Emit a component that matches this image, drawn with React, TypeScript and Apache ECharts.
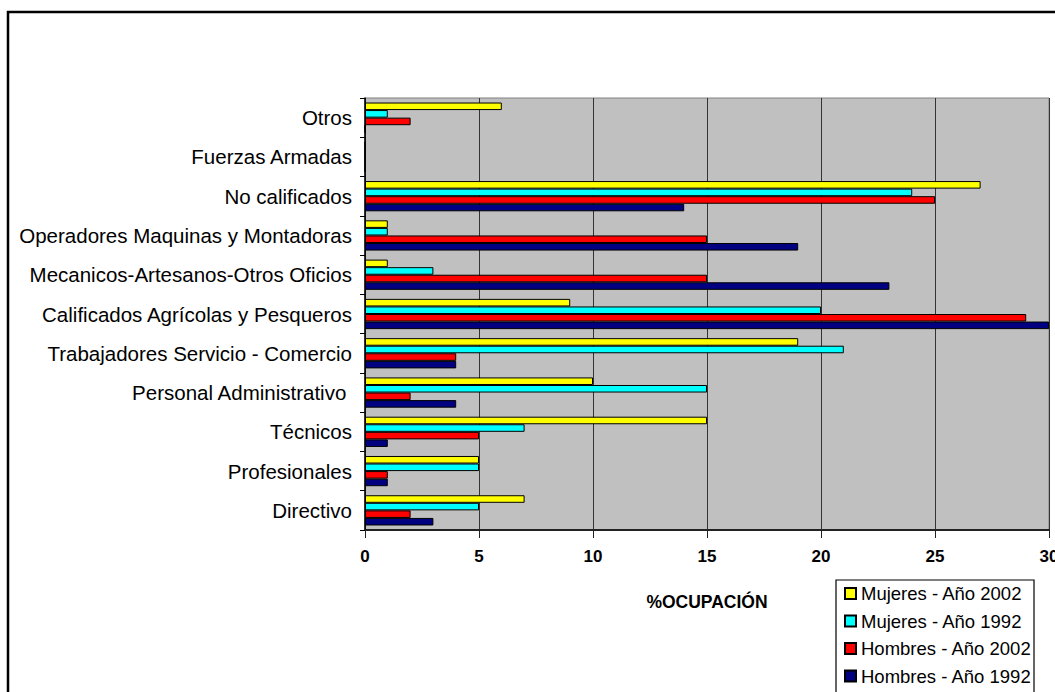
import React, { useEffect, useRef } from "react";
import * as echarts from "echarts";

const categories = [
  "Directivo",
  "Profesionales",
  "Técnicos",
  "Personal Administrativo ",
  "Trabajadores Servicio - Comercio",
  "Calificados Agrícolas y Pesqueros",
  "Mecanicos-Artesanos-Otros Oficios",
  "Operadores Maquinas y Montadoras",
  "No calificados",
  "Fuerzas Armadas",
  "Otros",
];

const seriesNames = [
  "Mujeres - Año 2002",
  "Mujeres - Año 1992",
  "Hombres - Año 2002",
  "Hombres - Año 1992",
];

const mujeres2002 = [7, 5, 15, 10, 19, 9, 1, 1, 27, 0, 6];
const mujeres1992 = [5, 5, 7, 15, 21, 20, 3, 1, 24, 0, 1];
const hombres2002 = [2, 1, 5, 2, 4, 29, 15, 15, 25, 0, 2];
const hombres1992 = [3, 1, 1, 4, 4, 30, 23, 19, 14, 0, 0];

const colors = ["#FFFF00", "#00FFFF", "#FF0000", "#000080"];
const xTicks = [0, 5, 10, 15, 20, 25, 30];

export default function App() {
  const ref = useRef<HTMLDivElement>(null);

  useEffect(() => {
    if (!ref.current) return;
    const chart = echarts.init(ref.current, null, { renderer: "svg" });
    const data = [mujeres2002, mujeres1992, hombres2002, hombres1992];
    chart.setOption({
      animation: false,
      backgroundColor: "#ffffff",
      grid: {
        left: 365,
        top: 98,
        width: 684,
        height: 432,
        show: true,
        backgroundColor: "#C0C0C0",
        borderColor: "#808080",
        borderWidth: 1,
        containLabel: false,
        outerBoundsMode: "none",
      },
      xAxis: {
        type: "value",
        min: xTicks[0],
        max: xTicks[xTicks.length - 1],
        interval: 5,
        name: "%OCUPACIÓN",
        nameLocation: "middle",
        nameGap: 63,
        nameTextStyle: {
          fontFamily: "Liberation Sans, Arial, sans-serif",
          fontWeight: "bold",
          fontSize: 17.5,
          color: "#000",
        },
        axisLine: { show: true, lineStyle: { color: "#222", width: 2 } },
        axisTick: { show: true, length: 8, lineStyle: { color: "#222", width: 1 } },
        axisLabel: {
          margin: 18,
          fontFamily: "Liberation Sans, Arial, sans-serif",
          fontWeight: "bold",
          fontSize: 17,
          color: "#000",
        },
        splitLine: { show: true, lineStyle: { color: "#333", width: 1 } },
      },
      yAxis: {
        type: "category",
        data: categories,
        axisLine: { show: true, lineStyle: { color: "#000", width: 1.5 } },
        axisTick: { show: true, length: 5, lineStyle: { color: "#000", width: 1 } },
        axisLabel: {
          margin: 13,
          fontFamily: "Liberation Sans, Arial, sans-serif",
          fontSize: 20.5,
          color: "#000",
        },
        splitLine: { show: false },
      },
      legend: {
        orient: "vertical",
        left: 844,
        top: 584,
        width: 190,
        height: 130,
        padding: 0,
        itemWidth: 11,
        itemHeight: 11,
        itemGap: 8.5,
        icon: "rect",
        data: seriesNames,
        textStyle: {
          fontFamily: "Liberation Sans, Arial, sans-serif",
          fontSize: 18.5,
          color: "#000",
        },
      },
      graphic: [
        {
          type: "rect",
          shape: { x: 8, y: 12, width: 1300, height: 900 },
          style: { fill: "none", stroke: "#000", lineWidth: 2.5 },
          silent: true,
        },
        {
          type: "rect",
          shape: { x: 836, y: 580, width: 198, height: 130 },
          style: { fill: "#fff", stroke: "#000", lineWidth: 1.2 },
          silent: true,
          z: -1,
        },
      ],
      series: seriesNames.map((name, i) => ({
        name,
        type: "bar",
        data: data[i],
        barGap: "0%",
        barCategoryGap: "23%",
        itemStyle: { color: colors[i], borderColor: "#000", borderWidth: 1 },
      })),
    });
    return () => chart.dispose();
  }, []);

  return (
    <div
      ref={ref}
      style={{ position: "fixed", left: 0, top: 0, width: 1055, height: 692 }}
    />
  );
}
